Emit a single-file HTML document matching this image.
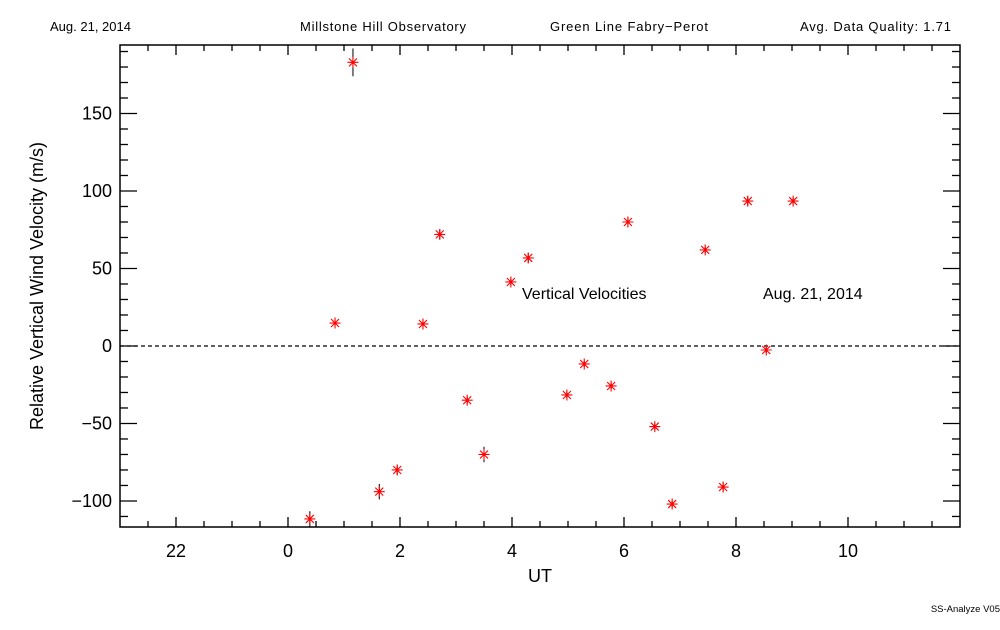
<!DOCTYPE html>
<html><head><meta charset="utf-8"><style>
body{margin:0;background:#fff;}
svg text{font-family:"Liberation Sans","DejaVu Sans",sans-serif;}
</style></head><body>
<svg width="1000" height="625" viewBox="0 0 1000 625" xmlns="http://www.w3.org/2000/svg">
<g font-size="13" fill="#000">
<text x="50" y="31">Aug. 21, 2014</text>
<text x="300" y="31" textLength="166">Millstone Hill Observatory</text>
<text x="550" y="31" textLength="158">Green Line Fabry−Perot</text>
<text x="800" y="31" textLength="151">Avg. Data Quality: 1.71</text>
</g>
<rect x="120" y="45" width="840" height="482" fill="none" stroke="#000" stroke-width="1.5"/>
<g id="axes"></g>
<g id="marks"></g>
<text x="522" y="299" font-size="16">Vertical Velocities</text>
<text x="763" y="299" font-size="16">Aug. 21, 2014</text>
<text x="540" y="582" font-size="18" text-anchor="middle">UT</text>
<text transform="translate(43,286) rotate(-90)" font-size="18" text-anchor="middle">Relative Vertical Wind Velocity (m/s)</text>
<text x="1000" y="612" font-size="9.5" text-anchor="end">SS-Analyze V05</text>
</svg>
<script>
const times=[0.39,0.84,1.16,1.63,1.95,2.41,2.71,3.2,3.5,3.98,4.29,4.98,5.29,5.77,6.07,6.55,6.86,7.45,7.77,8.21,8.54,9.02];
const velocities=[-111.6,14.8,183,-94,-80,14.2,72,-35,-70,41.3,56.8,-31.6,-11.6,-25.8,80,-52,-102,62,-91,93.5,-2.6,93.5];
const errors=[5,2,9,5,3,2,3,2,5,2,3,2,2,2,3,2,2,2,3,3,2,2];
const xTickLabels=["22","0","2","4","6","8","10"];
const xTickValues=[-2,0,2,4,6,8,10];
const yTickValues=[-100,-50,0,50,100,150];
const NS="http://www.w3.org/2000/svg";
const xMin=-3,xMax=12,yMin=-116.8,yMax=194.2;
const L=120,R=960,T=45,B=527;
const xs=v=>L+(v-xMin)/(xMax-xMin)*(R-L);
const ys=v=>B-(v-yMin)/(yMax-yMin)*(B-T);
const axes=document.getElementById('axes'),marks=document.getElementById('marks');
function mk(tag,attrs,parent){const e=document.createElementNS(NS,tag);for(const k in attrs)e.setAttribute(k,attrs[k]);parent.appendChild(e);return e;}
for(let v=-2.5;v<=11.5;v+=0.5){
  const x=xs(v);const major=Math.abs(v%2)<1e-6;const len=major?10:6;
  const t1=mk('line',{x1:x,x2:x,y1:B,y2:B-len,stroke:'#000','stroke-width':1.3},axes);
  
  
  const t2=mk('line',{x1:x,x2:x,y1:T,y2:T+len,stroke:'#000','stroke-width':1.3},axes);
  
  
}
xTickValues.forEach((v,i)=>{
  const t=mk('text',{x:xs(v),y:557,'font-size':18,'text-anchor':'middle'},axes);
  t.textContent=xTickLabels[i];
  
  
});
for(let v=-110;v<=190;v+=10){
  const y=ys(v);const major=v%50===0;const len=major?17:8;
  const t1=mk('line',{x1:L,x2:L+len,y1:y,y2:y,stroke:'#000','stroke-width':1.3},axes);
  
  
  const t2=mk('line',{x1:R,x2:R-len,y1:y,y2:y,stroke:'#000','stroke-width':1.3},axes);
  
  
}
yTickValues.forEach(v=>{
  const t=mk('text',{x:112,y:ys(v)+6,'font-size':18,'text-anchor':'end'},axes);
  t.textContent=v<0?'−'+(-v):String(v);
  
  
});
const zl=mk('line',{x1:L,x2:R,y1:ys(0),y2:ys(0),stroke:'#000','stroke-width':1.2,'stroke-dasharray':'4,3'},axes);


times.forEach((t,i)=>{
  const x=xs(t),y=ys(velocities[i]);
  const g=mk('g',{},marks);
  
  
  mk('line',{x1:x,x2:x,y1:ys(velocities[i]+errors[i]),y2:ys(velocities[i]-errors[i]),stroke:'#000','stroke-width':1},g);
  const s=5.5,d=4;
  const p=`M${x-s},${y}L${x+s},${y}M${x},${y-s}L${x},${y+s}M${x-d},${y-d}L${x+d},${y+d}M${x-d},${y+d}L${x+d},${y-d}`;
  mk('path',{d:p,stroke:'#ff0000','stroke-width':1.1,fill:'none'},g);
});
</script>
</body></html>
